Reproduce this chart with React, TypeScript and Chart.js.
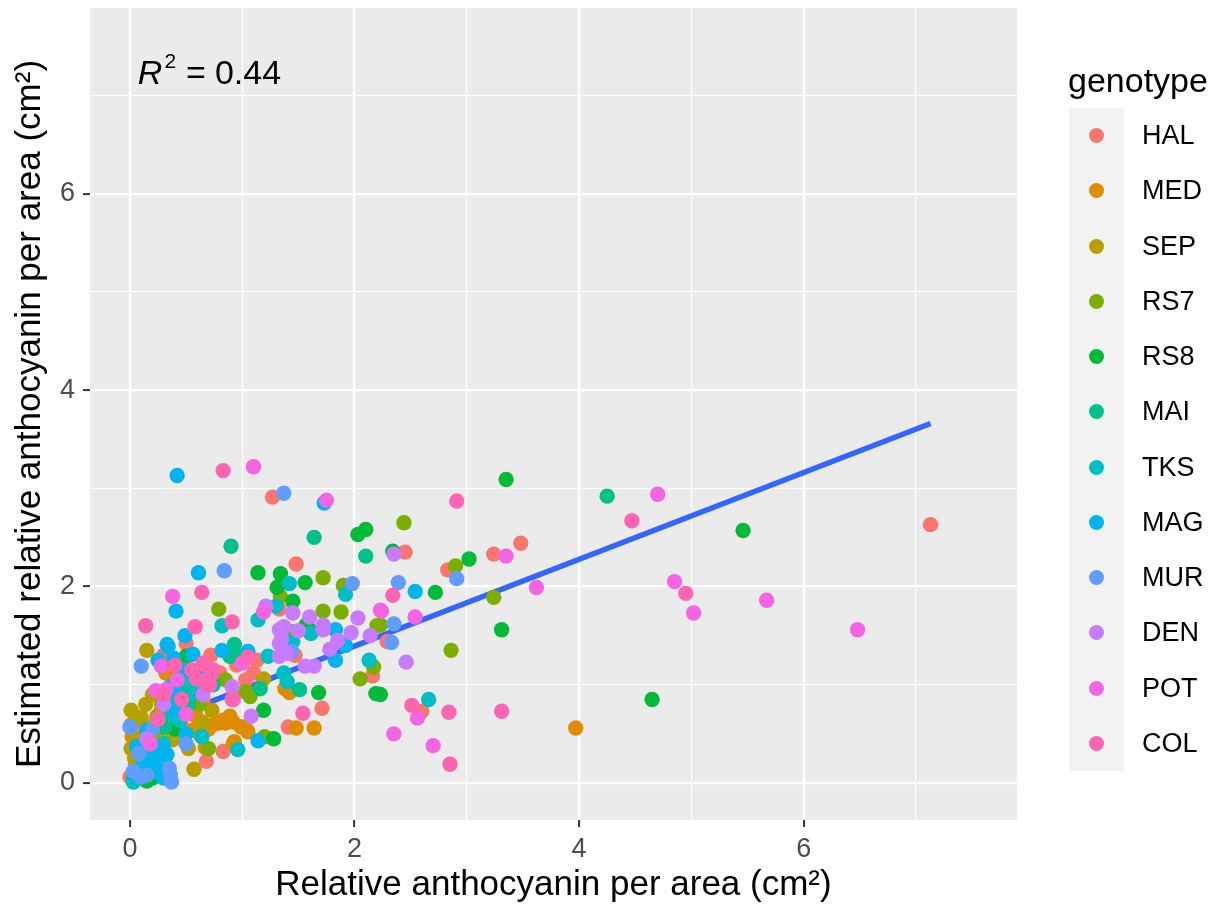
import React, { useEffect, useRef } from "react";
import { Chart, registerables } from "chart.js";

Chart.register(...registerables);

// ---- data ----
const GENOTYPES = ["HAL", "MED", "SEP", "RS7", "RS8", "MAI", "TKS", "MAG", "MUR", "DEN", "POT", "COL"];

const HAL: number[][] = [
  [7.13, 2.63], [3.48, 2.44], [3.24, 2.33], [2.45, 2.35], [2.83, 2.17], [1.27, 2.91], [1.48, 2.23],
  [2.16, 1.09], [2.29, 1.44], [1.89, 1.43], [1.47, 1.30], [1.33, 1.77], [1.13, 1.25], [1.03, 1.05],
  [1.10, 1.12], [0.65, 0.85], [1.71, 0.76], [1.41, 0.57], [0.83, 0.32], [0.68, 0.22], [0.36, 0.91],
  [0.30, 1.30], [0.37, 1.27], [0.50, 1.42], [0.00, 0.06], [0.55, 1.02], [0.20, 0.45], [0.80, 1.12],
  [2.60, 0.73], [0.15, 0.30], [0.40, 0.60], [0.95, 1.20], [0.62, 1.00], [0.28, 0.75], [0.05, 0.15],
  [0.72, 1.30], [0.12, 0.55],
];
const MED: number[][] = [
  [3.97, 0.56], [1.48, 0.56], [1.64, 0.56], [1.42, 0.92], [0.32, 1.12], [0.58, 0.69], [0.56, 0.54],
  [0.02, 0.47], [0.77, 0.61], [0.85, 0.61], [0.92, 0.62], [0.99, 0.57], [1.04, 0.54], [0.89, 0.68],
  [0.67, 0.36], [0.93, 0.42], [0.55, 0.81], [0.58, 0.71], [0.79, 0.61], [0.83, 0.64], [1.01, 0.57],
  [1.05, 0.52], [0.92, 0.40], [0.10, 0.40], [0.05, 0.20], [0.25, 0.30], [0.45, 0.85], [0.12, 0.10],
  [1.38, 0.96], [0.48, 0.75], [0.70, 0.55], [0.35, 0.62], [0.18, 0.28],
];
const SEP: number[][] = [
  [0.15, 1.35], [0.01, 0.74], [0.10, 0.67], [0.24, 0.68], [0.28, 0.81], [0.30, 0.68], [0.73, 0.74],
  [0.65, 0.62], [0.25, 0.49], [0.18, 0.51], [0.01, 0.59], [0.38, 0.44], [0.37, 0.54], [0.52, 0.35],
  [0.57, 0.14], [0.01, 0.35], [0.04, 0.25], [0.12, 0.15], [1.19, 1.06], [1.02, 0.93], [0.35, 0.78],
  [0.45, 0.60], [0.20, 0.90], [0.08, 0.05], [0.30, 0.20], [0.62, 0.50], [0.22, 0.60], [0.33, 0.85],
  [0.06, 0.45], [0.42, 0.70], [0.14, 0.80],
];
const RS7: number[][] = [
  [2.44, 2.65], [2.90, 2.21], [3.24, 1.89], [2.23, 1.61], [2.86, 1.35], [1.72, 2.09], [1.90, 2.01],
  [1.72, 1.75], [1.88, 1.74], [2.20, 1.60], [1.45, 1.54], [2.17, 1.18], [2.05, 1.06], [0.79, 1.77],
  [1.34, 1.90], [0.85, 1.05], [1.07, 0.88], [1.04, 0.93], [1.20, 0.47], [0.09, 0.08], [0.30, 0.10],
  [0.55, 0.90], [0.70, 0.35], [0.62, 0.80], [0.22, 0.15],
];
const RS8: number[][] = [
  [3.35, 3.09], [2.34, 2.36], [3.02, 2.28], [2.72, 1.94], [3.31, 1.56], [2.23, 0.90], [4.65, 0.85],
  [5.46, 2.57], [2.03, 2.53], [2.10, 2.58], [1.14, 2.14], [1.34, 2.13], [1.31, 1.99], [1.56, 2.04],
  [1.45, 1.85], [1.59, 1.57], [1.57, 1.61], [1.68, 0.92], [2.19, 0.91], [1.19, 0.74], [0.50, 1.29],
  [1.28, 0.45], [0.27, 0.08], [0.33, 0.06], [0.15, 0.02], [0.40, 0.55], [0.25, 0.12], [0.20, 0.05],
  [0.60, 0.95],
];
const MAI: number[][] = [
  [4.25, 2.92], [0.90, 2.41], [1.64, 2.50], [2.10, 2.31], [1.51, 0.95], [0.93, 1.41], [0.89, 1.29],
  [0.97, 1.29], [1.16, 0.96], [0.65, 1.16], [0.74, 1.00], [0.31, 0.57], [0.03, 0.06], [0.22, 0.35],
  [0.45, 0.95], [0.58, 1.00], [0.35, 0.65], [0.10, 0.12], [0.52, 0.80],
];
const TKS: number[][] = [
  [2.66, 0.85], [1.42, 2.03], [1.92, 1.92], [1.61, 1.52], [1.45, 1.44], [2.13, 1.25], [1.37, 1.12],
  [1.40, 1.03], [0.82, 1.60], [1.14, 1.66], [1.30, 1.80], [1.23, 1.29], [0.58, 0.92], [0.45, 0.71],
  [0.45, 0.64], [0.39, 0.70], [0.64, 0.47], [0.96, 0.34], [0.03, 0.01], [0.30, 0.40], [0.50, 1.05],
  [0.20, 0.30], [0.40, 0.78], [0.12, 0.22],
];
const MAG: number[][] = [
  [0.42, 3.13], [1.73, 2.85], [0.61, 2.14], [2.54, 1.95], [0.41, 1.75], [0.49, 1.50], [1.83, 1.56],
  [1.92, 1.40], [1.83, 1.25], [1.05, 1.34], [0.82, 1.35], [0.56, 1.31], [0.49, 1.15], [0.34, 1.39],
  [0.39, 1.27], [0.25, 1.25], [0.46, 1.13], [0.36, 0.98], [0.42, 0.90], [0.39, 0.74], [0.15, 0.54],
  [0.50, 0.50], [0.06, 0.37], [0.21, 0.23], [0.27, 0.20], [0.33, 0.29], [0.16, 0.18], [0.24, 0.17],
  [1.14, 0.43], [0.33, 1.41], [0.05, 0.10], [0.28, 0.35], [0.18, 0.10], [0.30, 0.05],
];
const MUR: number[][] = [
  [1.37, 2.95], [0.84, 2.16], [1.98, 2.03], [2.39, 2.04], [2.91, 2.08], [2.35, 1.62], [2.33, 1.43],
  [1.44, 1.34], [0.10, 1.19], [0.00, 0.57], [0.50, 0.40], [0.36, 0.08], [0.37, 0.01], [0.03, 0.12],
  [0.10, 0.06], [0.20, 0.55], [0.35, 0.15], [0.08, 0.30], [0.15, 0.08],
];
const DEN: number[][] = [
  [2.35, 2.33], [2.03, 1.68], [1.45, 1.73], [1.60, 1.69], [1.72, 1.56], [1.37, 1.59], [1.97, 1.53],
  [1.78, 1.36], [1.56, 1.19], [1.64, 1.19], [2.46, 1.23], [2.14, 1.50], [1.35, 1.46], [1.40, 1.32],
  [1.21, 1.80], [1.33, 1.56], [1.33, 1.42], [1.33, 1.29], [1.72, 1.61], [1.08, 0.68], [0.91, 0.98],
  [0.65, 0.90], [0.30, 0.80], [0.15, 0.45], [1.50, 1.55], [1.85, 1.45],
];
const POT: number[][] = [
  [1.10, 3.22], [1.75, 2.88], [4.70, 2.94], [3.35, 2.31], [3.62, 1.99], [4.85, 2.05], [5.02, 1.73],
  [5.67, 1.86], [6.48, 1.56], [2.24, 1.75], [2.54, 1.69], [2.23, 1.76], [2.56, 0.66], [2.35, 0.50],
  [2.70, 0.38], [0.38, 1.90], [1.19, 1.74], [1.00, 1.22], [0.71, 1.08], [0.92, 0.85], [0.28, 1.19],
  [0.23, 0.94], [0.42, 1.05], [0.18, 0.40], [0.50, 0.70], [0.32, 0.95],
];
const COL: number[][] = [
  [0.83, 3.18], [2.91, 2.87], [4.47, 2.67], [2.34, 1.91], [0.64, 1.94], [0.14, 1.60], [0.91, 1.64],
  [0.58, 1.59], [2.51, 0.79], [2.84, 0.72], [3.31, 0.73], [2.85, 0.19], [4.95, 1.93], [0.67, 1.20],
  [0.74, 1.15], [0.59, 1.06], [0.71, 1.00], [0.65, 1.22], [0.46, 0.85], [0.68, 1.01], [0.91, 0.85],
  [1.54, 0.71], [0.30, 0.90], [0.40, 1.20], [0.25, 0.65], [1.05, 1.28], [0.55, 1.15],
];

const SERIES = [HAL, MED, SEP, RS7, RS8, MAI, TKS, MAG, MUR, DEN, POT, COL];

// fitted lm line (end points)
const FIT_X = [0.0, 7.13];
const FIT_Y = [0.51, 3.66];

const X_TICKS = [0, 1, 2, 3, 4, 5, 6, 7];
const Y_TICKS = [0, 1, 2, 3, 4, 5, 6, 7];
const R2_TEXT = "0.44";

// ---- styles ----
const COLORS = [
  "#F8766D", "#DE8C00", "#B79F00", "#7CAE00", "#00BA38", "#00C08B",
  "#00BFC4", "#00B4F0", "#619CFF", "#C77CFF", "#F564E3", "#FF64B0",
];
const FONT = '"Liberation Sans", Arial, Helvetica, sans-serif';
const W = 1223;
const H = 906;
const PANEL = { left: 90, right: 1017, top: 8, bottom: 820 };

const bgPlugin = {
  id: "ggbg",
  beforeDraw(chart: any) {
    const { ctx, chartArea } = chart;
    ctx.save();
    ctx.fillStyle = "#FFFFFF";
    ctx.fillRect(0, 0, chart.width, chart.height);
    ctx.fillStyle = "#EBEBEB";
    ctx.fillRect(chartArea.left, chartArea.top, chartArea.right - chartArea.left, chartArea.bottom - chartArea.top);
    ctx.restore();
  },
};

const r2Plugin = {
  id: "r2label",
  afterDraw(chart: any) {
    const { ctx } = chart;
    const xs = chart.scales.x;
    const ys = chart.scales.y;
    const x0 = xs.getPixelForValue(0.07);
    const base = ys.getPixelForValue(7.12);
    ctx.save();
    ctx.fillStyle = "#000000";
    ctx.textBaseline = "alphabetic";
    ctx.textAlign = "left";
    ctx.font = `italic 34px ${FONT}`;
    ctx.fillText("R", x0, base);
    let x = x0 + ctx.measureText("R").width + 2;
    ctx.font = `21px ${FONT}`;
    ctx.fillText("2", x, base - 16);
    x += ctx.measureText("2").width + 10;
    ctx.font = `34px ${FONT}`;
    ctx.fillText("=", x, base);
    x += ctx.measureText("=").width + 9;
    ctx.fillText(R2_TEXT, x, base);
    ctx.restore();
  },
};

function makeScale(min: number, max: number, ticks: number[], title: string, isX: boolean) {
  return {
    type: "linear",
    min,
    max,
    afterBuildTicks(scale: any) {
      scale.ticks = ticks.map((v) => ({ value: v }));
    },
    afterFit(scale: any) {
      if (isX) {
        scale.height = H - PANEL.bottom;
        scale.paddingLeft = 0;
        scale.paddingRight = 0;
      } else {
        scale.width = PANEL.left;
        scale.paddingTop = 0;
        scale.paddingBottom = 0;
      }
    },
    border: { display: false },
    grid: {
      color: "#FFFFFF",
      lineWidth: (c: any) => (c.tick && c.tick.value % 2 === 0 ? 2.2 : 1.1),
      drawTicks: true,
      tickLength: 7,
      tickWidth: 2,
      tickColor: (c: any) => (c.tick && c.tick.value % 2 === 0 ? "#333333" : "rgba(0,0,0,0)"),
    },
    ticks: {
      autoSkip: false,
      maxRotation: 0,
      minRotation: 0,
      padding: isX ? 6 : 8,
      color: "#4D4D4D",
      font: { family: FONT, size: 27 },
      callback: (v: any) => (Number(v) % 2 === 0 ? String(v) : ""),
    },
    title: {
      display: true,
      text: title,
      color: "#000000",
      font: { family: FONT, size: 35, lineHeight: 1.2 },
      padding: isX ? { top: 0, bottom: 0 } : { top: 9, bottom: 0 },
    },
  };
}

export default function App() {
  const ref = useRef<HTMLCanvasElement | null>(null);

  useEffect(() => {
    if (!ref.current) return;
    const datasets: any[] = SERIES.map((pts, i) => ({
      type: "scatter",
      label: GENOTYPES[i],
      data: pts.map((p) => ({ x: p[0], y: p[1] })),
      backgroundColor: COLORS[i],
      borderColor: COLORS[i],
      pointRadius: 7.7,
      pointHoverRadius: 7.7,
      pointBorderWidth: 0,
      borderWidth: 0,
      order: SERIES.length - i,
    }));
    datasets.push({
      type: "line",
      label: "fit",
      data: FIT_X.map((x, i) => ({ x, y: FIT_Y[i] })),
      borderColor: "#3366FF",
      borderWidth: 5.5,
      pointRadius: 0,
      fill: false,
      tension: 0,
      order: 100,
    });

    const chart = new Chart(ref.current, {
      type: "scatter",
      data: { datasets },
      options: {
        animation: false,
        responsive: false,
        devicePixelRatio: 1,
        layout: { padding: { left: 0, right: W - PANEL.right, top: PANEL.top, bottom: 0 } },
        plugins: { legend: { display: false }, tooltip: { enabled: false } },
        events: [],
        scales: {
          x: makeScale(-0.356, 7.9, X_TICKS, "Relative anthocyanin per area (cm²)", true),
          y: makeScale(-0.377, 7.89, Y_TICKS, "Estimated relative anthocyanin per area (cm²)", false),
        },
      } as any,
      plugins: [bgPlugin, r2Plugin],
    });
    return () => chart.destroy();
  }, []);

  const keyTop = 108;
  const keyH = 55.25;

  return (
    <div style={{ position: "fixed", left: 0, top: 0, width: W, height: H, background: "#FFFFFF", fontFamily: FONT }}>
      <canvas ref={ref} width={W} height={H} style={{ position: "absolute", left: 0, top: 0, width: W, height: H }} />
      <div style={{ position: "absolute", left: 1068, top: 58, height: 44, display: "flex", alignItems: "center", fontSize: 34, color: "#000" }}>
        genotype
      </div>
      <div style={{ position: "absolute", left: 1069, top: keyTop, width: 55, height: keyH * GENOTYPES.length, background: "#F2F2F2" }} />
      {GENOTYPES.map((g, i) => (
        <React.Fragment key={g}>
          <div
            style={{
              position: "absolute",
              left: 1096.5 - 7.5,
              top: keyTop + i * keyH + keyH / 2 - 7.5,
              width: 15,
              height: 15,
              borderRadius: "50%",
              background: COLORS[i],
            }}
          />
          <div
            style={{
              position: "absolute",
              left: 1142,
              top: keyTop + i * keyH,
              height: keyH,
              display: "flex",
              alignItems: "center",
              fontSize: 27,
              color: "#000",
            }}
          >
            {g}
          </div>
        </React.Fragment>
      ))}
    </div>
  );
}
